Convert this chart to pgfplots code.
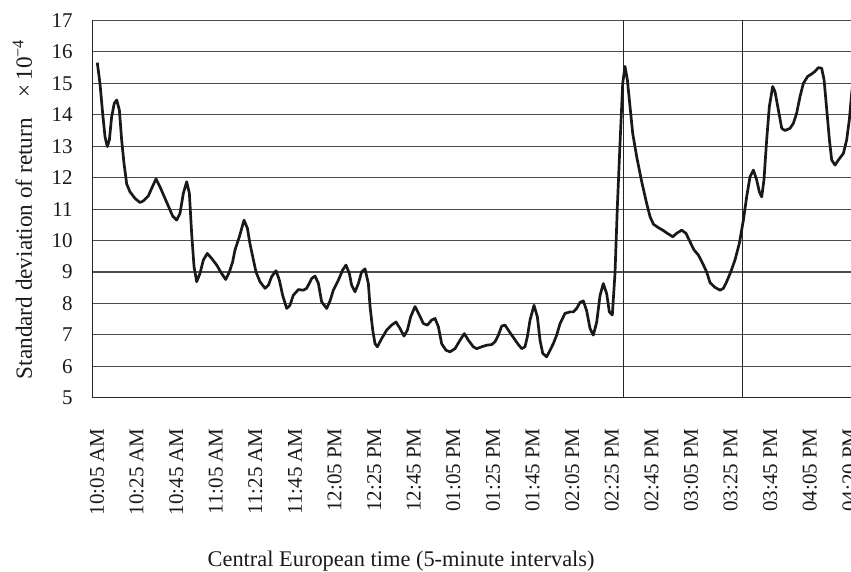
\documentclass[border=0pt]{standalone}
\usepackage{fontspec}
\setmainfont{Liberation Serif}
\usepackage{pgfplots}
\pgfplotsset{compat=1.18}
\begin{document}
\begin{tikzpicture}
\begin{axis}[
  scale only axis,
  width=379.35pt, height=188.6pt,
  xmin=-0.475, xmax=76.16,
  ymin=5, ymax=17,
  enlargelimits=false,
  axis lines=left,
  axis line style={-, black!85, line width=0.7pt},
  ytick={5,6,...,17},
  xtick={0,4,...,72,76},
  xticklabels={10:05 AM,10:25 AM,10:45 AM,11:05 AM,11:25 AM,11:45 AM,12:05 PM,12:25 PM,12:45 PM,01:05 PM,01:25 PM,01:45 PM,02:05 PM,02:25 PM,02:45 PM,03:05 PM,03:25 PM,03:45 PM,04:05 PM,04:20 PM},
  major tick length=0pt,
  ymajorgrids,
  major grid style={black!70, line width=0.55pt},
  /pgf/number format/assume math mode=true,
  ticklabel style={font=\fontsize{10.5}{12}\selectfont, black!90},
  xticklabel style={rotate=90, anchor=east, inner sep=0pt},
  xticklabel shift=15.15pt,
  yticklabel style={anchor=east, inner sep=0pt},
  yticklabel shift=9.6pt,
  label style={font=\fontsize{11.2}{13}\selectfont, black!90},
  xlabel={Central European time (5-minute intervals)},
  xlabel style={at={(axis description cs:0.407,0)}, anchor=base, yshift=-84.5pt},
  ylabel={\fontsize{11.6}{13}\selectfont Standard deviation of return\hspace{0.9em}×\,10\textsuperscript{−4}},
  ylabel style={at={(axis description cs:-0.0795,0.5)}, anchor=base, rotate=0},
]
\addplot[black!85, line width=0.6pt, forget plot] coordinates {(53.2,5) (53.2,17)};
\addplot[black!85, line width=0.6pt, forget plot] coordinates {(65.2,5) (65.2,17)};
\addplot[black!90, line width=1.35pt, line join=round] coordinates {
(0.03,15.66) (0.30,15.0) (0.57,14.05) (0.81,13.3) (1.04,12.99) (1.25,13.2) (1.48,13.94) (1.75,14.37) (1.99,14.47) (2.26,14.15) (2.49,13.2) (2.73,12.45) (3.00,11.8) (3.33,11.55) (3.84,11.34) (4.34,11.21) (4.68,11.26) (5.19,11.42) (5.52,11.66) (5.96,11.96) (6.36,11.71) (6.87,11.34) (7.31,11.02) (7.64,10.78) (8.05,10.65) (8.38,10.86) (8.72,11.5) (9.06,11.87) (9.33,11.5) (9.56,10.23) (9.80,9.17) (10.07,8.69) (10.40,8.95) (10.74,9.38) (11.14,9.59) (11.58,9.43) (12.09,9.22) (12.59,8.95) (13.00,8.76) (13.37,9.0) (13.70,9.32) (13.94,9.7) (14.38,10.12) (14.85,10.65) (15.19,10.39) (15.45,9.9) (15.72,9.5) (16.06,9.0) (16.46,8.69) (16.97,8.48) (17.31,8.58) (17.64,8.85) (18.08,9.04) (18.42,8.74) (18.75,8.26) (19.16,7.84) (19.49,7.94) (19.83,8.26) (20.34,8.44) (20.84,8.42) (21.18,8.48) (21.68,8.79) (22.02,8.87) (22.36,8.64) (22.69,8.05) (23.20,7.84) (23.54,8.08) (23.87,8.42) (24.38,8.74) (24.81,9.06) (25.15,9.22) (25.49,8.95) (25.72,8.58) (26.06,8.37) (26.40,8.63) (26.73,9.0) (27.07,9.1) (27.41,8.63) (27.58,7.9) (27.85,7.15) (28.08,6.72) (28.32,6.62) (28.75,6.88) (29.26,7.15) (29.76,7.31) (30.20,7.41) (30.61,7.2) (31.01,6.96) (31.35,7.15) (31.68,7.57) (32.12,7.9) (32.56,7.63) (32.96,7.36) (33.37,7.31) (33.80,7.47) (34.14,7.52) (34.48,7.26) (34.81,6.72) (35.25,6.51) (35.66,6.46) (36.16,6.56) (36.67,6.83) (37.10,7.04) (37.51,6.83) (38.01,6.62) (38.35,6.56) (38.86,6.62) (39.36,6.67) (39.87,6.69) (40.20,6.78) (40.54,6.99) (40.88,7.28) (41.21,7.31) (41.65,7.1) (42.05,6.92) (42.49,6.72) (42.90,6.56) (43.23,6.62) (43.47,6.94) (43.74,7.47) (44.14,7.94) (44.48,7.57) (44.75,6.83) (45.02,6.41) (45.42,6.30) (45.76,6.51) (46.09,6.72) (46.43,6.99) (46.77,7.36) (47.27,7.68) (47.78,7.73) (48.11,7.73) (48.45,7.84) (48.79,8.03) (49.12,8.08) (49.46,7.76) (49.80,7.2) (50.13,6.99) (50.47,7.4) (50.81,8.25) (51.14,8.63) (51.48,8.31) (51.75,7.73) (52.05,7.63) (52.32,8.95) (52.56,11.08) (52.83,13.1) (53.10,15.0) (53.33,15.54) (53.57,15.11) (53.84,14.26) (54.11,13.41) (54.51,12.67) (55.02,11.87) (55.52,11.18) (55.86,10.76) (56.20,10.52) (56.70,10.41) (57.14,10.33) (57.61,10.23) (58.15,10.12) (58.55,10.23) (59.06,10.33) (59.49,10.23) (59.90,9.96) (60.30,9.7) (60.74,9.54) (61.18,9.27) (61.58,9.0) (61.92,8.66) (62.42,8.51) (62.93,8.42) (63.27,8.48) (63.60,8.69) (64.01,9.0) (64.44,9.38) (64.88,9.91) (65.29,10.65) (65.62,11.39) (65.96,12.03) (66.30,12.24) (66.63,11.93) (66.90,11.55) (67.14,11.39) (67.37,11.93) (67.64,13.2) (67.91,14.26) (68.25,14.9) (68.48,14.74) (68.82,14.16) (69.16,13.57) (69.49,13.5) (70.00,13.57) (70.34,13.73) (70.67,14.05) (71.01,14.58) (71.35,15.0) (71.78,15.22) (72.19,15.3) (72.52,15.38) (72.86,15.5) (73.20,15.48) (73.44,15.11) (73.71,14.16) (73.98,13.2) (74.21,12.56) (74.55,12.4) (74.88,12.56) (75.39,12.77) (75.72,13.2) (75.99,13.84) (76.23,14.69) (76.40,15.2)
};
\end{axis}
\pgfresetboundingbox
\path[use as bounding box] (-46.15pt,-87.15pt) rectangle (379.35pt,198.85pt);
\end{tikzpicture}
\end{document}
